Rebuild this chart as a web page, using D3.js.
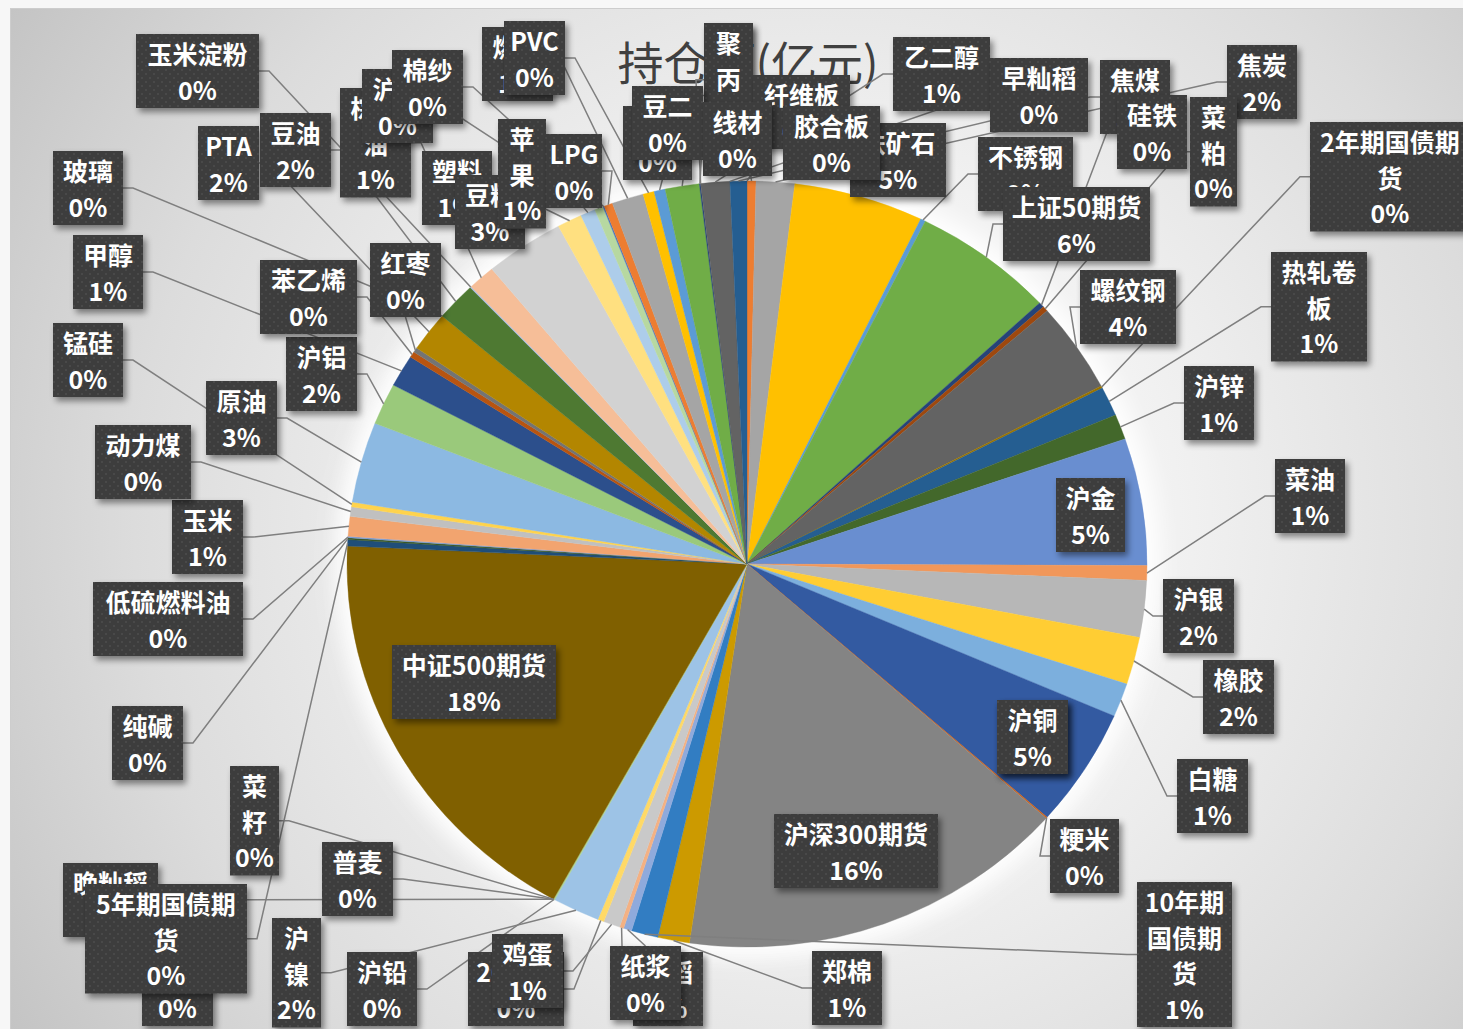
<!DOCTYPE html>
<html><head><meta charset="utf-8">
<script src="https://cdn.jsdelivr.net/npm/d3@7"></script>
<style>body{margin:0;background:#f7f7f7;} svg{display:block;}</style>
</head><body><svg id="c" width="1463" height="1029"></svg>
<script>
// ---------------- data (clockwise from 12 o'clock) ----------------
const chartTitle = "持仓额(亿元)";
const categories = [
 "线材","纤维板","焦炭","铁矿石","不锈钢","上证50期货","硅铁","菜粕","螺纹钢","2年期国债期货",
 "热轧卷板","沪锌","沪金","菜油","沪银","橡胶","白糖","短纤","沪铜","粳米",
 "沪深300期货","郑棉","10年期国债期货","强麦","纸浆","粳稻","鸡蛋","20号胶","沪镍","沪铅",
 "普麦","菜籽","晚籼稻","中证500期货","5年期国债期货","纯碱","低硫燃料油","玉米","动力煤","锰硅",
 "原油","沪铝","甲醇","苯乙烯","红枣","PTA","玻璃","豆油","玉米淀粉","棕榈油",
 "豆粕","塑料","苹果","沪锡","棉纱","LPG","燃油","PVC","豆二","聚丙烯",
 "豆一","沥青","乙二醇","早籼稻","焦煤","胶合板"
];
const values = [
 0,0.36,1.55,5.24,0.2,5.71,0.22,0.22,3.8,0.1,
 1.24,1.06,5.36,0.62,2.39,2.0,1.42,0,5.0,0.05,
 15.75,1.28,1.08,0,0.33,0.17,0.67,0.25,1.9,0.06,
 0,0,0,17.7,0.27,0.08,0.06,0.83,0.4,0.2,
 3.4,1.75,1.35,0.25,0.2,1.67,0,1.63,0.05,1.1,
 3.2,1.0,0.6,0.35,0.05,0.35,1.28,0.45,0.45,1.38,
 0.05,0,1.17,0,0.68,0
];

// ---------------- label layout (draw order: first = bottom) ----------------
// [category, boxLeft, boxTop, boxWidth, showLeader]
const labelLayout = [
 ["沥青",706,25,46,true],["聚丙烯",704,23,49,true],["短纤",997,700,71,false],
 ["粳稻",633,952,70,true],["纸浆",610,946,71,true],["20号胶",468,952,96,true],["鸡蛋",492,934,71,true],
 ["晚籼稻",63,863,95,true],["强麦",142,952,71,false],["5年期国债期货",85,884,162,true],
 ["豆一",623,106,69,true],["豆二",632,86,71,true],["燃油",482,27,71,true],["PVC",504,21,61,true],
 ["棕榈油",340,88,71,true],["沪锡",362,69,71,true],["棉纱",392,50,71,true],
 ["塑料",422,151,70,true],["豆粕",455,175,70,true],["苹果",498,119,48,true],["LPG",546,134,56,true],
 ["纤维板",753,75,97,true],["线材",703,102,69,true],["铁矿石",850,123,96,true],["胶合板",783,106,97,true],
 ["乙二醇",893,37,97,true],["早籼稻",990,58,98,true],["焦煤",1100,60,70,true],["硅铁",1117,95,70,true],
 ["焦炭",1227,45,70,true],["菜粕",1190,97,47,true],["不锈钢",978,137,95,true],["上证50期货",1003,187,147,true],
 ["2年期国债期货",1310,122,160,true],["螺纹钢",1080,270,96,true],["热轧卷板",1271,252,96,true],
 ["沪锌",1184,366,70,true],["沪金",1056,478,69,true],["菜油",1275,459,70,true],["沪银",1163,579,71,true],
 ["橡胶",1203,660,71,true],["白糖",1177,759,71,true],["沪铜",997,700,71,true],["粳米",1050,819,69,true],
 ["10年期国债期货",1137,882,95,true],["沪深300期货",774,814,164,true],["郑棉",812,951,70,true],
 ["沪铅",347,952,70,true],["沪镍",272,918,49,true],["菜籽",230,766,49,true],["普麦",322,842,71,true],
 ["纯碱",112,706,71,true],["低硫燃料油",93,582,150,true],["中证500期货",392,645,164,true],
 ["玉米",172,500,71,true],["动力煤",95,425,96,true],["原油",206,381,71,true],["锰硅",53,323,70,true],
 ["沪铝",286,337,71,true],["苯乙烯",260,260,97,true],["甲醇",73,235,70,true],["红枣",370,243,71,true],
 ["玻璃",53,151,70,true],["PTA",198,126,61,true],["豆油",260,113,71,true],["玉米淀粉",136,34,123,true]
];

// ---------------- styling ----------------
const W = 1463, H = 1029;
const cx = 747, cy = 564, R = 400, RY = 383, ky = RY / R;
const FONT = '"Noto Sans CJK SC","Noto Sans",sans-serif';
const FS = 25, LH = 35.5;
const baseColors = ["#4472C4","#ED7D31","#A5A5A5","#FFC000","#5B9BD5","#70AD47"];
const variants = [[1,0],[0.6,0],[0.8,0.2],[0.8,0],[0.6,0.4],[0.5,0],[0.7,0.3],[0.7,0],[0.5,0.5]];
function sliceColor(i){
  const h = d3.hsl(baseColors[i % 6]);
  const v = variants[Math.floor(i / 6) % variants.length];
  h.l = h.l * v[0] + v[1];
  return h.formatHex();
}

const svg = d3.select("#c");
const defs = svg.append("defs");
const bg = defs.append("radialGradient").attr("id","bg").attr("gradientUnits","userSpaceOnUse")
  .attr("cx",820).attr("cy",520).attr("r",980);
[[0,"#ffffff"],[0.35,"#f2f2f2"],[0.7,"#dcdcdc"],[1,"#c2c2c2"]].forEach(s=>
  bg.append("stop").attr("offset",s[0]).attr("stop-color",s[1]));
const pat = defs.append("pattern").attr("id","dots").attr("patternUnits","userSpaceOnUse")
  .attr("width",8).attr("height",8);
pat.append("rect").attr("width",8).attr("height",8).attr("fill","#3e3e3e");
pat.append("circle").attr("cx",2).attr("cy",2).attr("r",0.9).attr("fill","#4f4f4f");
pat.append("circle").attr("cx",6).attr("cy",6).attr("r",0.9).attr("fill","#4f4f4f");
const sh = defs.append("filter").attr("id","sh").attr("x","-20%").attr("y","-20%").attr("width","150%").attr("height","150%");
sh.append("feDropShadow").attr("dx",3).attr("dy",4).attr("stdDeviation",3)
  .attr("flood-color","#000").attr("flood-opacity",0.45);
const glow = defs.append("filter").attr("id","glow").attr("x","-20%").attr("y","-20%").attr("width","140%").attr("height","140%");
glow.append("feGaussianBlur").attr("stdDeviation",10);

svg.append("rect").attr("x",0).attr("y",0).attr("width",W).attr("height",H).attr("fill","#f7f7f7");
svg.append("rect").attr("x",10.5).attr("y",8.5).attr("width",W-10).attr("height",H-8)
  .attr("fill","url(#bg)").attr("stroke","#cdcdcd");

// ---------------- pie ----------------
const data = categories.map((c,i)=>({name:c, v:values[i], i}));
const total = d3.sum(values);
const arcs = d3.pie().sort(null).value(d=>d.v).startAngle(0).endAngle(2*Math.PI)(data);
const byName = new Map(arcs.map(a=>[a.data.name,a]));
const arc = d3.arc().innerRadius(0).outerRadius(R);

svg.append("ellipse").attr("cx",cx).attr("cy",cy).attr("rx",R+12).attr("ry",RY+12)
  .attr("fill","#ffffff").attr("opacity",0.95).attr("filter","url(#glow)");
const pieG = svg.append("g").attr("transform",`translate(${cx},${cy}) scale(1,${ky})`);
pieG.selectAll("path").data(arcs.filter(a=>a.data.v>0)).join("path")
  .attr("d",arc).attr("fill",d=>sliceColor(d.data.i))
  .attr("stroke",d=>sliceColor(d.data.i)).attr("stroke-width",0.4);

// ---------------- title ----------------
svg.append("text").attr("x",748).attr("y",60).attr("text-anchor","middle")
  .attr("dominant-baseline","central").attr("font-family",FONT).attr("font-size",46)
  .attr("fill","#404040").text(chartTitle);

// ---------------- labels ----------------
const ctx = document.createElement("canvas").getContext("2d");
ctx.font = `bold ${FS}px ${FONT}`;
function wrap(text, maxW){
  const toks = text.match(/[A-Za-z0-9.%]+|./g);
  const lines = []; let cur = "";
  toks.forEach(t=>{
    if (cur && ctx.measureText(cur+t).width > maxW){ lines.push(cur); cur = t; }
    else cur += t;
  });
  if (cur) lines.push(cur);
  return lines;
}
const pct = v => Math.round(v/total*100) + "%";

const labels = labelLayout.map(([name,x,y,w,lead])=>{
  const a = byName.get(name);
  const lines = wrap(name, w-14).concat([pct(a.data.v)]);
  const h = lines.length*LH + 3;
  const mid = (a.startAngle + a.endAngle)/2;
  const px = cx + R*Math.sin(mid), py = cy - RY*Math.cos(mid);
  const bcx = x + w/2, bcy = y + h/2;
  const inside = ((bcx-cx)/R)**2 + ((bcy-cy)/RY)**2 < 1;
  return {name,x,y,w,h,lines,px,py,lead: lead && !inside};
});

const leadG = svg.append("g");
labels.filter(l=>l.lead).forEach(l=>{
  const L=l.x, Rt=l.x+l.w, T=l.y, B=l.y+l.h, my=l.y+l.h/2, mx=l.x+l.w/2;
  let p;
  if (l.px > Rt) p = [[Rt,my],[Rt+10,my],[l.px,l.py]];
  else if (l.px < L) p = [[L,my],[L-10,my],[l.px,l.py]];
  else if (l.py > B) p = [[mx,B],[l.px,l.py]];
  else if (l.py < T) p = [[mx,T],[l.px,l.py]];
  else return;
  if (Math.hypot(p[0][0]-l.px, p[0][1]-l.py) < 14) return;
  leadG.append("path").attr("d", d3.line()(p)).attr("fill","none")
    .attr("stroke","#7f7f7f").attr("stroke-width",1.5);
});

const labG = svg.append("g");
labels.forEach(l=>{
  const g = labG.append("g");
  g.append("rect").attr("x",l.x).attr("y",l.y).attr("width",l.w).attr("height",l.h)
    .attr("fill","url(#dots)").attr("filter","url(#sh)");
  l.lines.forEach((t,k)=>{
    g.append("text").attr("x",l.x+l.w/2).attr("y",l.y+1.5+LH*(k+0.5))
      .attr("text-anchor","middle").attr("dominant-baseline","central")
      .attr("font-family",FONT).attr("font-size",FS).attr("font-weight","bold")
      .attr("fill","#ffffff").text(t);
  });
});
</script></body></html>
